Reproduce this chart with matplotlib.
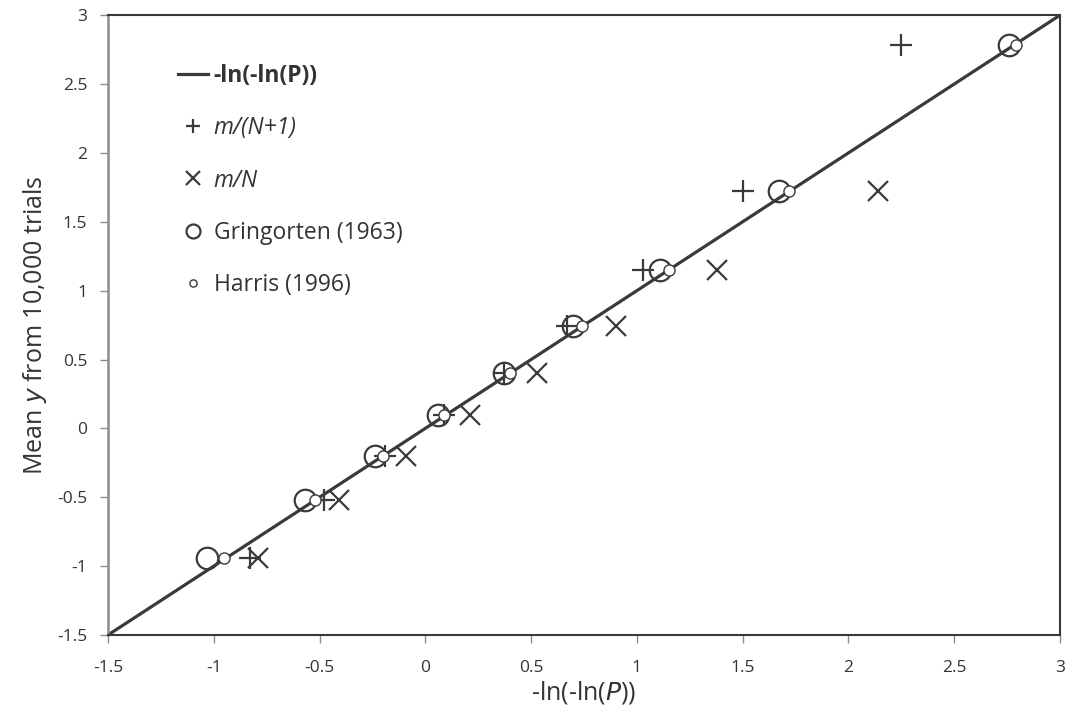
import matplotlib.pyplot as plt

# mean y from 10,000 trials (same for every plotting-position series)
mean_y = [-0.94, -0.52, -0.20, 0.10, 0.40, 0.74, 1.15, 1.72, 2.78]

# -ln(-ln(P)) for each plotting position formula
x_n1 = [-0.83, -0.48, -0.19, 0.09, 0.37, 0.67, 1.03, 1.50, 2.25]
x_n = [-0.79, -0.41, -0.09, 0.21, 0.53, 0.90, 1.38, 2.14]
x_gring = [-1.03, -0.57, -0.24, 0.06, 0.37, 0.70, 1.11, 1.67, 2.76]
x_harris = [-0.95, -0.52, -0.20, 0.09, 0.40, 0.74, 1.15, 1.72, 2.79]

line_x = [-1.5, 3]
line_y = [-1.5, 3]

dark = '#3a3a3a'
plt.rcParams['font.family'] = ['Open Sans', 'DejaVu Sans']

fig = plt.figure(figsize=(10.69, 7.22), dpi=100)
ax = fig.add_axes([0.101, 0.1205, 0.8906, 0.8585])

ax.plot(line_x, line_y, '-', color=dark, linewidth=2.3, label='-ln(-ln(P))', zorder=2)
ax.plot(x_n1, mean_y, '+', color=dark, markersize=16, markeredgewidth=1.6,
        linestyle='none', label='m/(N+1)', zorder=3)
ax.plot(x_n, mean_y[:len(x_n)], 'x', color=dark, markersize=15, markeredgewidth=1.6,
        linestyle='none', label='m/N', zorder=3)
ax.plot(x_gring, mean_y, 'o', color=dark, markerfacecolor='none', markersize=15.5,
        markeredgewidth=1.6, linestyle='none', label='Gringorten (1963)', zorder=4)
ax.plot(x_harris, mean_y, 'o', color=dark, markerfacecolor='white', markersize=8,
        markeredgewidth=1.0, linestyle='none', label='Harris (1996)', zorder=5)

ax.set_xlim(-1.5, 3)
ax.set_ylim(-1.5, 3)
ax.set_xticks([-1.5, -1, -0.5, 0, 0.5, 1, 1.5, 2, 2.5, 3])
ax.set_xticklabels(['-1.5', '-1', '-0.5', '0', '0.5', '1', '1.5', '2', '2.5', '3'])
ax.set_yticks([-1.5, -1, -0.5, 0, 0.5, 1, 1.5, 2, 2.5, 3])
ax.set_yticklabels(['-1.5', '-1', '-0.5', '0', '0.5', '1', '1.5', '2', '2.5', '3'])

for s in ax.spines.values():
    s.set_color(dark)
    s.set_linewidth(1.5)
ax.spines['left'].set_color('#8c8c8c')
ax.spines['left'].set_linewidth(1.8)
ax.tick_params(direction='out', length=6, width=1, color='#8c8c8c',
               labelsize=12.5, labelcolor='#333333')
ax.tick_params(axis='x', pad=12)
ax.tick_params(axis='y', pad=9)

ax.set_xlabel('-ln(-ln($\\mathit{P}$))', fontsize=18, color='#333333', labelpad=2)
ax.set_ylabel('Mean $\\mathit{y}$ from 10,000 trials', fontsize=18, color='#333333', labelpad=6)

leg = ax.legend(loc='upper left', bbox_to_anchor=(0.052, 0.955), frameon=False,
                fontsize=16.5, labelspacing=1.24, handlelength=1.3, handletextpad=0.25,
                markerscale=0.65)
texts = leg.get_texts()
texts[0].set_fontweight('bold')
texts[1].set_fontstyle('italic')
texts[2].set_fontstyle('italic')
for t in texts:
    t.set_color('#333333')

plt.savefig('out.png', dpi=100)
